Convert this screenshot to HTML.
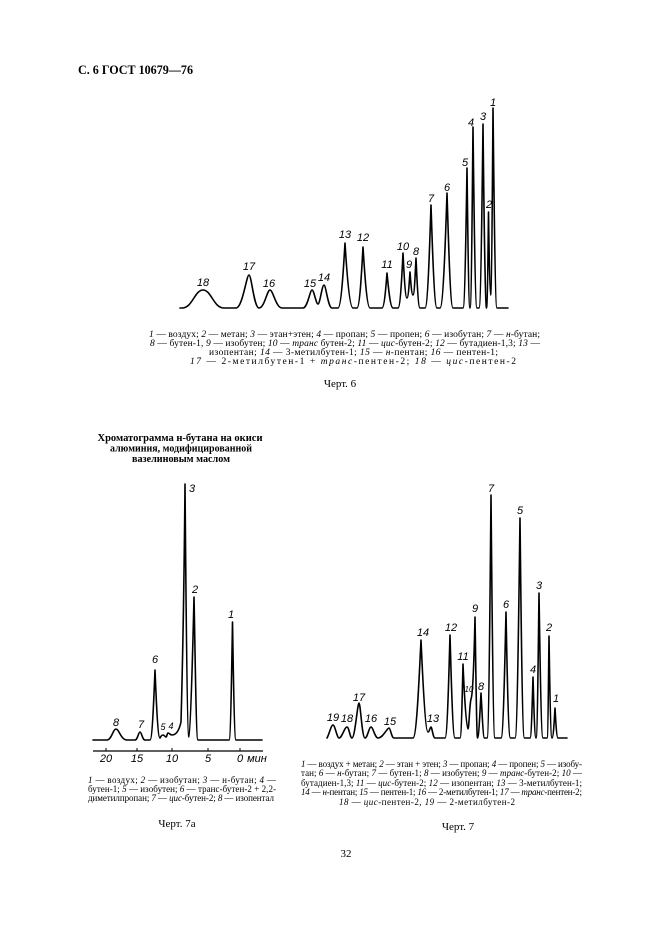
<!DOCTYPE html>
<html>
<head>
<meta charset="utf-8">
<style>
  html, body { margin:0; padding:0; background:#fff; }
  svg { display:block; }
  .lbl { font-family:"Liberation Sans", sans-serif; font-style:italic; font-size:11px; fill:#000; }
  .cap { font-family:"Liberation Serif", "Noto Serif CJK SC", serif; font-size:9px; fill:#000; }
  .cap6 { font-family:"Liberation Serif", "Noto Serif CJK SC", serif; font-size:9.5px; fill:#000; }
  .ttl { font-family:"Liberation Serif", "Noto Serif CJK SC", serif; font-size:10.5px; font-weight:bold; fill:#000; }
  .chert { font-family:"Liberation Serif", "Noto Serif CJK SC", serif; font-size:11px; fill:#000; }
  .pk { fill:none; stroke:#000; stroke-width:1.6; stroke-linejoin:round; stroke-linecap:round; }
</style>
</head>
<body>
<svg width="661" height="936" viewBox="0 0 661 936" xmlns="http://www.w3.org/2000/svg">
  <rect width="661" height="936" fill="#fff"/>

  <!-- Header -->
  <text x="78" y="74" font-family="Liberation Serif, serif" font-weight="bold" font-size="13" textLength="115" lengthAdjust="spacingAndGlyphs">С. 6 ГОСТ 10679—76</text>

  <!-- ===== Chart 6 ===== -->
  <path class="pk" d="M180,308 L182,308
    C192.5,308 194.6,290 203,290 C211.4,290 213.5,308 224,308
    L236,308
    C242.5,308 246.5,275 249,275 C251.5,275 254,308 259,308
    C264.5,308 267,290 270,290 C273,290 276,308 282,308
    L303,308
    C307.5,308 310,290 312,290 C314,290 316,304 318,304
    C320,304 322,285 324,285 C326,285 328,308 332,308
    L338,308
    C341.5,308 344,259 345,243 C346,259 349,308 353,308
    L357,308
    C360,308 362.1,262 363,247 C364,262 366.5,308 370,308
    L382,308
    C384.5,308 386.3,282 387,273 C387.9,282 390,308 393,308
    L398,308
    C400.5,308 402.3,267 403,253 C403.6,264 405,298 407,298
    C408.5,298 409.5,278 410,272 C410.5,278 411.5,295 413,295
    C414.5,295 415.5,267 416,258 C416.6,270 418,308 420,308
    L425,308
    C428,308 430.1,231 431,205 C431.9,231 434,308 437,308
    L440,308
    C443.5,308 446,222 447,193 C448,222 450,308 453,308
    L463,308
    C465,308 466.4,203 467,168 C467.5,203 468.5,308 470,308
    C471.5,308 472.5,172 473,127 C473.6,172 475,308 477,308
    L479,308
    C481,308 482.4,170 483,124 C483.5,170 485,308 486.5,308
    C487.5,308 488.2,236 488.5,212 C488.8,236 489.8,295 490.5,295
    C491.8,295 492.6,155 493,108 C493.6,155 495,308 497,308
    L508,308"/>
  <g class="lbl" text-anchor="middle">
    <text x="203" y="286">18</text>
    <text x="249" y="270">17</text>
    <text x="269" y="287">16</text>
    <text x="310" y="287">15</text>
    <text x="324" y="281">14</text>
    <text x="345" y="238">13</text>
    <text x="363" y="241">12</text>
    <text x="387" y="268">11</text>
    <text x="403" y="250">10</text>
    <text x="409" y="268">9</text>
    <text x="416" y="255">8</text>
    <text x="431" y="202">7</text>
    <text x="447" y="191">6</text>
    <text x="465" y="166">5</text>
    <text x="471" y="126">4</text>
    <text x="483" y="120">3</text>
    <text x="489" y="208">2</text>
    <text x="493" y="106">1</text>
  </g>

  <!-- Caption 6 -->
  <text class="cap6" x="149" y="337" textLength="391" lengthAdjust="spacing"><tspan font-style="italic">1</tspan> — воздух; <tspan font-style="italic">2</tspan> — метан; <tspan font-style="italic">3</tspan> — этан+этен; <tspan font-style="italic">4</tspan> — пропан; <tspan font-style="italic">5</tspan> — пропен; <tspan font-style="italic">6</tspan> — изобутан; <tspan font-style="italic">7</tspan> — <tspan font-style="italic">н</tspan>-бутан;</text>
  <text class="cap6" x="150" y="346" textLength="390" lengthAdjust="spacing"><tspan font-style="italic">8</tspan> — бутен-1, <tspan font-style="italic">9</tspan> — изобутен; <tspan font-style="italic">10</tspan> — <tspan font-style="italic">транс</tspan> бутен-2; <tspan font-style="italic">11</tspan> — <tspan font-style="italic">цис</tspan>-бутен-2; <tspan font-style="italic">12</tspan> — бутадиен-1,3; <tspan font-style="italic">13</tspan> —</text>
  <text class="cap6" x="209" y="355" textLength="289" lengthAdjust="spacing">изопентан; <tspan font-style="italic">14</tspan> — 3-метилбутен-1; <tspan font-style="italic">15</tspan> — <tspan font-style="italic">н</tspan>-пентан; <tspan font-style="italic">16</tspan> — пентен-1;</text>
  <text class="cap6" x="190" y="364" textLength="326" lengthAdjust="spacing"><tspan font-style="italic">17</tspan> — 2-метилбутен-1 + <tspan font-style="italic">транс</tspan>-пентен-2; <tspan font-style="italic">18</tspan> — <tspan font-style="italic">цис</tspan>-пентен-2</text>
  <text class="chert" x="340" y="387" text-anchor="middle">Черт. 6</text>

  <!-- ===== Chart 7a ===== -->
  <text class="ttl" x="180" y="441" text-anchor="middle" textLength="165" lengthAdjust="spacingAndGlyphs">Хроматограмма н-бутана на окиси</text>
  <text class="ttl" x="181" y="451.5" text-anchor="middle" textLength="142" lengthAdjust="spacingAndGlyphs">алюминия, модифицированной</text>
  <text class="ttl" x="181" y="462" text-anchor="middle" textLength="98" lengthAdjust="spacingAndGlyphs">вазелиновым маслом</text>

  <path class="pk" d="M93,740 L107,740
    C111.5,740 113,729 116,729 C119,729 121,740 127,740
    L135,740
    C137.5,740 138.5,732 140,732 C141.5,732 142.5,740 145,740
    L150,740
    C152.5,740 154.2,688 155,670 C155.8,688 157.5,738 160,738
    C161,736 162,735 163,735 C164.5,735 165,737 166,737
    C167,737 167,733 168,733 C169.5,733 170,735 172,735
    C176,735 179,731 181,722
    C183,650 184.5,540 185,484 C185.5,540 187,737 189,737
    C190.5,737 193,640 194,597 C195,640 196,740 198,740
    L229,740
    C230.8,740 232,650 232.5,622 C233,650 234.2,740 236,740
    L262,740"/>
  <g class="lbl" text-anchor="middle">
    <text x="192" y="492">3</text>
    <text x="195" y="593">2</text>
    <text x="231" y="618">1</text>
    <text x="155" y="663">6</text>
    <text x="116" y="726">8</text>
    <text x="141" y="728">7</text>
    <text x="163" y="730" font-size="9">5</text>
    <text x="171" y="729" font-size="9">4</text>
  </g>
  <!-- axis -->
  <line x1="93" y1="751" x2="263" y2="751" stroke="#000" stroke-width="1.2"/>
  <g stroke="#000" stroke-width="1">
    <line x1="106" y1="748" x2="106" y2="751"/>
    <line x1="137" y1="748" x2="137" y2="751"/>
    <line x1="172" y1="748" x2="172" y2="751"/>
    <line x1="208" y1="748" x2="208" y2="751"/>
    <line x1="240" y1="748" x2="240" y2="751"/>
  </g>
  <g class="lbl" text-anchor="middle" font-size="9.5">
    <text x="106" y="762">20</text>
    <text x="137" y="762">15</text>
    <text x="172" y="762">10</text>
    <text x="208" y="762">5</text>
    <text x="240" y="762">0</text>
    <text x="257" y="762">мин</text>
  </g>

  <!-- Caption 7a -->
  <text class="cap" x="88" y="783" textLength="188" lengthAdjust="spacing"><tspan font-style="italic">1</tspan> — воздух; <tspan font-style="italic">2</tspan> — изобутан; <tspan font-style="italic">3</tspan> — н-бутан; <tspan font-style="italic">4</tspan> —</text>
  <text class="cap" x="88" y="792" textLength="188" lengthAdjust="spacing">бутен-1; <tspan font-style="italic">5</tspan> — изобутен; <tspan font-style="italic">6</tspan> — транс-бутен-2 + 2,2-</text>
  <text class="cap" x="88" y="801" textLength="186" lengthAdjust="spacing">диметилпропан; <tspan font-style="italic">7</tspan> — <tspan font-style="italic">цис</tspan>-бутен-2; <tspan font-style="italic">8</tspan> — изопентал</text>
  <text class="chert" x="177" y="827" text-anchor="middle">Черт. 7а</text>

  <!-- ===== Chart 7 ===== -->
  <path class="pk" d="M327,738
    C329,735 331,725 333,725 C335,725 337,738 339,738
    C342,738 344.5,727 347,727 C349,727 350,738 352,738
    C355,738 357.5,703 359,703 C360.5,703 362,738 365,738
    C367.5,738 369,727 371,727 C373,727 375,738 378,738
    C383,738 387,728 389,728 C390.5,728 391.5,738 394,738
    L413,738
    C417,738 419.8,662 421,640 C422,662 425,732 428,732
    C429.5,732 430,727 431,727 C432,727 433,738 435,738
    L445,738
    C447.5,738 449.2,661 450,635 C450.8,661 452.5,738 455,738
    L460,738
    C461.5,738 462.5,683 463,664 C463.8,683 466,729 468,729
    C469,729 469.5,705 471,699 C473,695 474.5,640 475,617
    C475.5,640 476.5,738 477.5,738
    C479,738 480.3,704 481,693 C481.7,704 483,738 484.5,738
    L487,738
    C489,738 490.4,556 491,495 C491.6,556 493,738 495,738
    L501,738
    C503.5,738 505.2,644 506,612 C506.7,644 508,738 510.5,738
    L515,738
    C517.5,738 519.2,573 520,518 C520.7,573 522,738 524.5,738
    L530,738
    C531.5,738 532.5,692 533,677 C533.5,692 534.5,738 536,738
    C537.5,738 538.5,629 539,593 C539.6,629 541,738 543,738
    L547,738
    C548,738 548.7,661 549,636 C549.4,661 550.5,738 552,738
    C553.5,738 554.5,716 555,708 C555.5,716 556.5,738 558,738
    L567,738"/>
  <g class="lbl" text-anchor="middle">
    <text x="333" y="721">19</text>
    <text x="347" y="722">18</text>
    <text x="359" y="701">17</text>
    <text x="371" y="722">16</text>
    <text x="390" y="725">15</text>
    <text x="423" y="636">14</text>
    <text x="433" y="722">13</text>
    <text x="451" y="631">12</text>
    <text x="463" y="660">11</text>
    <text x="469" y="692" font-size="8">10</text>
    <text x="475" y="612">9</text>
    <text x="481" y="690">8</text>
    <text x="491" y="492">7</text>
    <text x="506" y="608">6</text>
    <text x="520" y="514">5</text>
    <text x="533" y="673">4</text>
    <text x="539" y="589">3</text>
    <text x="549" y="631">2</text>
    <text x="556" y="702">1</text>
  </g>

  <!-- Caption 7 -->
  <text class="cap" x="301" y="767" textLength="281" lengthAdjust="spacing"><tspan font-style="italic">1</tspan> — воздух + метан; <tspan font-style="italic">2</tspan> — этан + этен; <tspan font-style="italic">3</tspan> — пропан; <tspan font-style="italic">4</tspan> — пропен; <tspan font-style="italic">5</tspan> — изобу-</text>
  <text class="cap" x="301" y="776" textLength="281" lengthAdjust="spacing">тан; <tspan font-style="italic">6</tspan> — <tspan font-style="italic">н</tspan>-бутан; <tspan font-style="italic">7</tspan> — бутен-1; <tspan font-style="italic">8</tspan> — изобутен; <tspan font-style="italic">9</tspan> — <tspan font-style="italic">транс</tspan>-бутен-2; <tspan font-style="italic">10</tspan> —</text>
  <text class="cap" x="301" y="786" textLength="281" lengthAdjust="spacing">бутадиен-1,3; <tspan font-style="italic">11</tspan> — <tspan font-style="italic">цис</tspan>-бутен-2; <tspan font-style="italic">12</tspan> — изопентан; <tspan font-style="italic">13</tspan> — 3-метилбутен-1;</text>
  <text class="cap" x="301" y="795" textLength="281" lengthAdjust="spacing"><tspan font-style="italic">14</tspan> — <tspan font-style="italic">н</tspan>-пентан; <tspan font-style="italic">15</tspan> — пентен-1; <tspan font-style="italic">16</tspan> — 2-метилбутен-1; <tspan font-style="italic">17</tspan> — <tspan font-style="italic">транс</tspan>-пентен-2;</text>
  <text class="cap" x="339" y="805" textLength="176" lengthAdjust="spacing"><tspan font-style="italic">18</tspan> — <tspan font-style="italic">цис</tspan>-пентен-2, <tspan font-style="italic">19</tspan> — 2-метилбутен-2</text>
  <text class="chert" x="458" y="830" text-anchor="middle">Черт. 7</text>

  <!-- Page number -->
  <text class="chert" x="346" y="857" text-anchor="middle">32</text>
</svg>
</body>
</html>
